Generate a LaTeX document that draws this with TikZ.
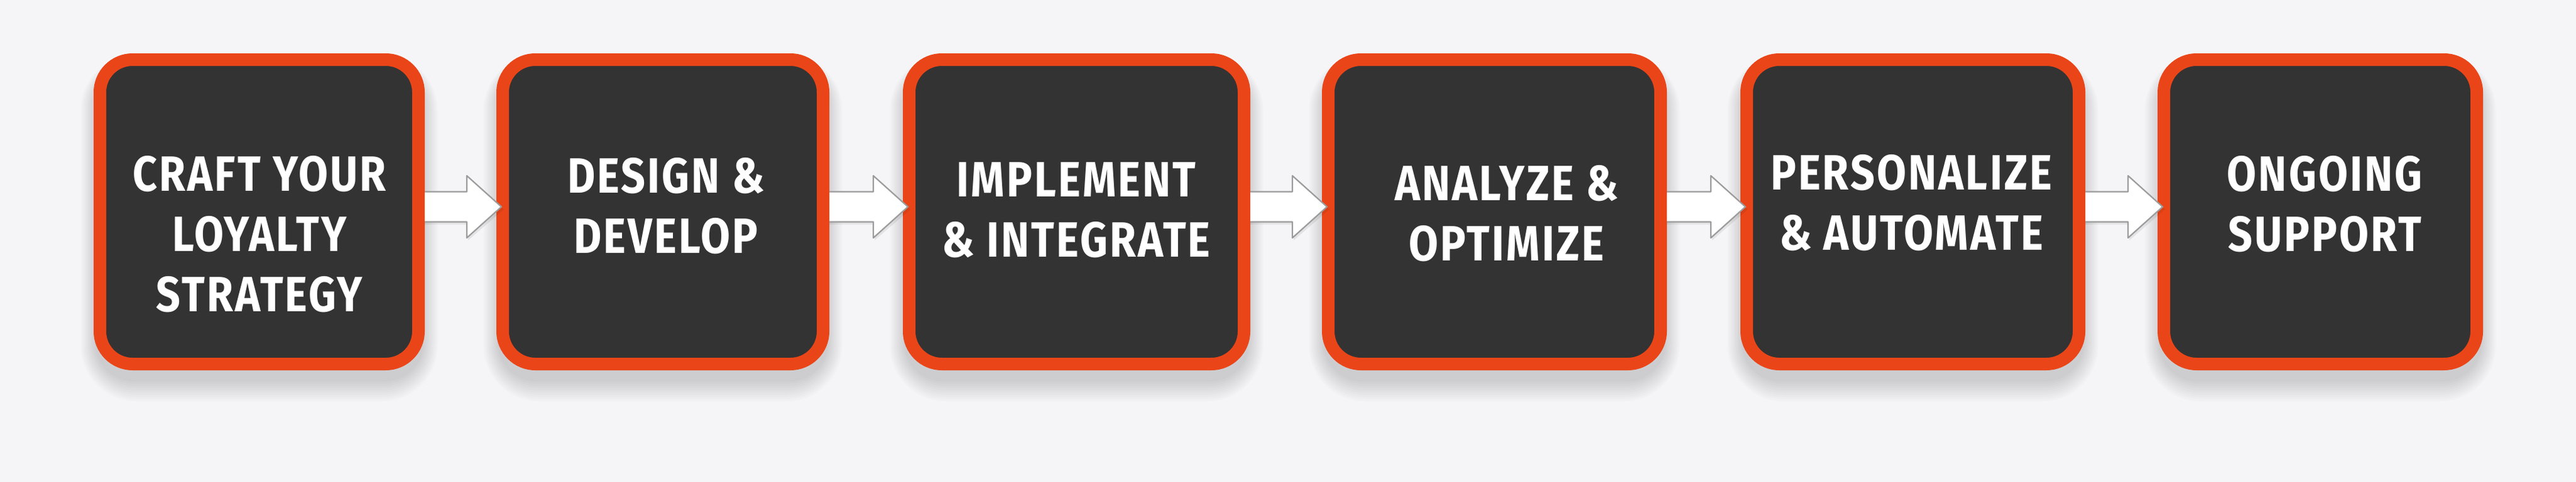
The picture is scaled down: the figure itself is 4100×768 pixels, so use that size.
\documentclass[tikz,border=0pt]{standalone}
\usepackage{fontspec}
\setmainfont{Fira Sans}[FakeStretch=0.86, LetterSpace=4]
\usetikzlibrary{calc}
\definecolor{bgcol}{HTML}{F5F5F7}
\definecolor{boxdark}{HTML}{333333}
\definecolor{boxorange}{HTML}{EA4518}
\definecolor{arrowline}{HTML}{9C9C9C}
\tikzset{
  stepbox/.style={draw=boxorange, line width=20pt, fill=boxdark, rounded corners=52pt,
    minimum height=485pt, inner sep=0pt, outer sep=0pt},
  steptext/.style={text=white, align=center, inner sep=0pt,
    font=\fontsize{79}{96}\selectfont\bfseries},
  arrowbody/.style={fill=white, draw=arrowline, line width=2.2pt, line join=round},
  arrowshadow/.style={fill=black, opacity=0.07},
  boxshadow/.style={fill=black, opacity=0.016}
}
\begin{document}
\begin{tikzpicture}[x=1pt, y=-1pt]
\fill[bgcol] (0,0) rectangle (4100,768);
\useasboundingbox (0,0) rectangle (4100,768);
% soft shadows under the boxes
\foreach \cx/\w in {412.5/507, 1055/510, 1713.5/533, 2378.5/529, 3044.5/529, 3693/498}{
  \foreach \i in {0,...,9}{
    \pgfmathsetmacro\rr{62+3*\i}
    \fill[boxshadow, rounded corners=\rr pt]
      (\cx-\w/2-8-2.5*\i, 105-2*\i) rectangle (\cx+\w/2+8+2.5*\i, 608+3.5*\i);
  }
}
% boxes
\node[stepbox, minimum width=507pt] (b1) at (412.5,337.5) {};
\node[stepbox, minimum width=510pt] (b2) at (1055,337.5) {};
\node[stepbox, minimum width=533pt] (b3) at (1713.5,337.5) {};
\node[stepbox, minimum width=529pt] (b4) at (2378.5,337.5) {};
\node[stepbox, minimum width=529pt] (b5) at (3044.5,337.5) {};
\node[stepbox, minimum width=498pt] (b6) at (3693,337.5) {};
% texts
\node[steptext] (t1) at (413,373.5) {CRAFT YOUR\\LOYALTY\\STRATEGY};
\node[steptext] (t2) at (1060,328.5) {DESIGN \&\\DEVELOP};
\node[steptext] (t3) at (1713,334.5) {IMPLEMENT\\\& INTEGRATE};
\node[steptext] (t4) at (2398,340.5) {ANALYZE \&\\OPTIMIZE};
\node[steptext] (t5) at (3042,323) {PERSONALIZE\\\& AUTOMATE};
\node[steptext] (t6) at (3700,325.5) {ONGOING\\SUPPORT};
% arrows
\foreach \a/\b in {b1/b2, b2/b3, b3/b4, b4/b5, b5/b6}{
  \fill[arrowshadow]
    ($(\a.east)+(10,-28)$) -- ($(\b.west)+(-55,-28)$) -- ($(\b.west)+(-55,-53.5)$)
    -- ($(\b.west)+(2,-4)$) -- ($(\b.west)+(-55,45.5)$) -- ($(\b.west)+(-55,20)$)
    -- ($(\a.east)+(10,20)$) -- cycle;
  \path[arrowbody]
    ($(\a.east)+(10,-32)$) -- ($(\b.west)+(-57,-32)$) -- ($(\b.west)+(-57,-57.5)$)
    -- ($(\b.west)+(-2,-8)$) -- ($(\b.west)+(-57,41.5)$) -- ($(\b.west)+(-57,16)$)
    -- ($(\a.east)+(10,16)$);
}
\end{tikzpicture}
\end{document}
